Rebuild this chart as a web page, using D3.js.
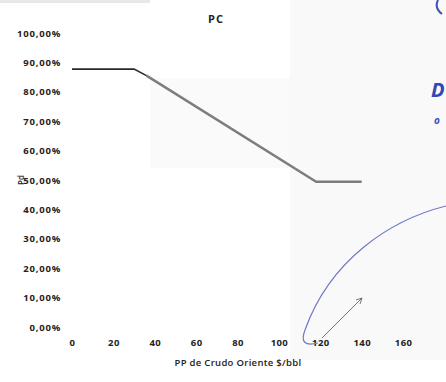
<!DOCTYPE html>
<html><head><meta charset="utf-8">
<script src="https://cdn.jsdelivr.net/npm/d3@7"></script>
<style>
html,body{margin:0;padding:0;background:#fff;}
svg{display:block;}
text{font-family:"Open Sans",sans-serif;fill:#222;}
</style></head>
<body>
<svg id="c" width="446" height="382"></svg>
<script>
// ---- data ----
const title = "PC";
const xTitle = "PP de Crudo Oriente $/bbl";
const yTitle = "Pd";
const xTicks = [0, 20, 40, 60, 80, 100, 120, 140, 160];
const yTicks = [0, 0.1, 0.2, 0.3, 0.4, 0.5, 0.6, 0.7, 0.8, 0.9, 1.0];
const priceX = [0, 30, 36, 118, 140];
const pdY = [0.877, 0.877, 0.855, 0.494, 0.494];

// ---- layout ----
const svg = d3.select("#c");
const x = d3.scaleLinear().domain([0, 180]).range([72, 444.5]);
const y = d3.scaleLinear().domain([0, 1]).range([327, 33]);

// scan background shading
svg.append("rect").attr("x", 290).attr("y", 0).attr("width", 156).attr("height", 360).attr("fill", "#f9f9f9");
svg.append("rect").attr("x", 150).attr("y", 78).attr("width", 140).attr("height", 90).attr("fill", "#fafafa");
svg.append("rect").attr("x", 0).attr("y", 0).attr("width", 150).attr("height", 3).attr("fill", "#e8e8e8");

// title
svg.append("text").attr("x", 216).attr("y", 23).attr("text-anchor", "middle")
  .attr("font-size", 11).attr("font-weight", 700).attr("letter-spacing", 1).text(title);

// y axis labels
const fmt = v => d3.format(".2f")(v * 100).replace(".", ",") + "%";
const yAxis = d3.axisLeft(y).tickValues(yTicks).tickFormat(fmt).tickSize(0).tickPadding(0);
const gy = svg.append("g").attr("transform", "translate(61,0)").call(yAxis);
gy.select(".domain").remove();
gy.selectAll("text").attr("font-size", 9.5).attr("font-weight", 700).attr("letter-spacing", 0.8)
  .style("font-family", '"Open Sans",sans-serif').attr("fill", "#222");

// x axis labels
const xAxis = d3.axisBottom(x).tickValues(xTicks).tickFormat(d3.format("d")).tickSize(0).tickPadding(0);
const gx = svg.append("g").attr("transform", "translate(0,339)").call(xAxis);
gx.select(".domain").remove();
gx.selectAll("text").attr("font-size", 9.5).attr("font-weight", 700).attr("letter-spacing", 0.4)
  .style("font-family", '"Open Sans",sans-serif').attr("fill", "#222");

// axis titles
svg.append("text").attr("x", 238).attr("y", 366).attr("text-anchor", "middle")
  .attr("font-size", 9.5).attr("font-weight", 600).attr("letter-spacing", 0.3).text(xTitle);
svg.append("text").attr("transform", "translate(24,180) rotate(-90)").attr("text-anchor", "middle")
  .attr("font-size", 8).attr("font-weight", 600).text(yTitle);

// line
const pts = priceX.map((v, i) => [v, pdY[i]]);
const line = d3.line().x(d => x(d[0])).y(d => y(d[1]));
svg.append("path").datum(pts.slice(2)).attr("d", line)
  .attr("fill", "none").attr("stroke", "#7d7d7d").attr("stroke-width", 2.4);
svg.append("path").datum(pts.slice(0, 3)).attr("d", line)
  .attr("fill", "none").attr("stroke", "#2a2a2a").attr("stroke-width", 1.6);

// handwritten blue annotations on the scan
const ink = "#6f78c8";
svg.append("path").attr("d", "M446,206 C390,220 330,260 305,330 Q298,348 318,343")
  .attr("fill", "none").attr("stroke", ink).attr("stroke-width", 1.2);
svg.append("path").attr("d", "M322,338 L362,298 M362,298 L356,300 M362,298 L360,304")
  .attr("fill", "none").attr("stroke", "#777").attr("stroke-width", 1);
svg.append("text").attr("x", 431).attr("y", 97).attr("font-size", 20).attr("font-weight", 700)
  .attr("font-style", "italic").style("fill", "#3346b8").text("D");
svg.append("text").attr("x", 434).attr("y", 124).attr("font-size", 10).attr("font-weight", 700)
  .attr("font-style", "italic").style("fill", "#4050c0").text("o");
svg.append("path").attr("d", "M438,0 Q434,8 442,14").attr("fill", "none").attr("stroke", "#4050c0").attr("stroke-width", 2);
</script>
</body></html>
